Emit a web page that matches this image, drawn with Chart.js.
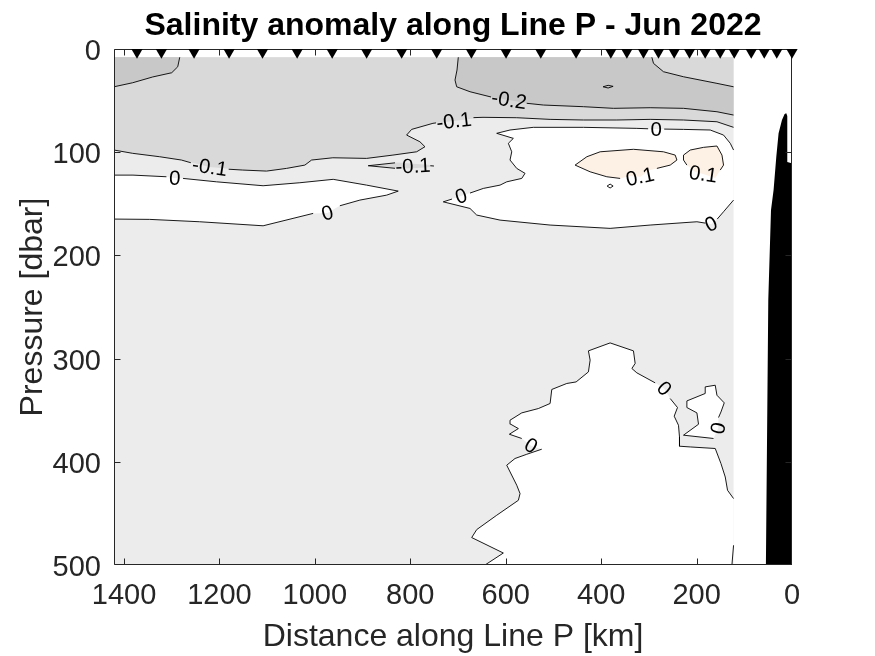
<!DOCTYPE html>
<html><head><meta charset="utf-8">
<script src="https://cdn.jsdelivr.net/npm/chart.js@4/dist/chart.umd.min.js"></script>
<style>html,body{margin:0;padding:0;background:#fff}</style>
</head><body>
<canvas id="c" width="875" height="656"></canvas>
<script>
// ---------------- data (km along Line P, pressure dbar) ----------------
const xTicks = [0, 200, 400, 600, 800, 1000, 1200, 1400];
const yTicks = [0, 100, 200, 300, 400, 500];
const kmRange = [0, 1421];
const dbarRange = [0, 500];
const dataKm = [122.5, 1421];
const dataDbar = [8, 500];

const stationKm = [1372.8, 1321.6, 1253.2, 1179.8, 1109.7, 1037.1, 963.7, 891.5, 818.1, 744.7,
  671.9, 599.3, 526.5, 452.5, 379.7, 346.1, 311.3, 279.8, 246.9, 214.8, 181.9, 150.5, 121.0,
  85.4, 58.1, 31.9, 0];
const stationDbar = 3.2;

// filled regions (anomaly classes)
const regionMinus02to01 = [[1421,8],[122.5,8],[122.5,75.9],[157.3,70.5],[227.4,68.8],[297.3,68.2],[367.1,68.8],[437.2,68.8],[507.0,68.2],[576.9,66.6],[647.6,66.2],[708.4,69.8],[752.5,72.0],[797.2,77.9],[807.7,83.4],[779.8,89.9],[769.3,94.7],[786.7,99.6],[836.4,102.8],[891.6,106.0],[962.3,105.4],[1006.9,107.6],[1021.0,112.5],[1059.4,115.7],[1101.3,118.3],[1151.1,117.3],[1220.3,114.4],[1279.7,107.6],[1325.2,104.4],[1381.8,101.1],[1421,97.9]];
const regionBelow02West = [[1421,8],[1283.2,8],[1287.4,17.2],[1300.0,23.0],[1339.9,27.1],[1381.8,32.7],[1421,36.6]];
const regionBelow02East = [[699.4,8],[293.7,8],[290.3,13.9],[269.4,22.0],[227.4,26.9],[157.3,33.3],[122.5,36.6],[122.5,64.0],[157.3,60.8],[227.4,57.5],[297.3,56.9],[374.2,57.5],[437.2,55.9],[521.1,54.3],[553.2,52.8],[593.0,49.4],[632.9,46.2],[674.9,41.4],[702.8,36.6],[706.3,30.1],[702.1,20.4]];
const regionWedge = [[888.2,113.1],[825.9,110.0],[794.4,111.2],[763.0,112.2],[750.4,113.4],[763.0,114.6],[794.4,115.6],[825.9,115.9]];
const regionPosBandWest = [[1421,122.2],[1381.2,122.2],[1311.1,123.8],[1293.7,125.1],[1276.3,125.4],[1206.2,128.7],[1108.5,132.5],[1031.5,129.6],[961.6,126.3],[891.6,131.9],[825.3,137.7],[849.6,141.6],[905.6,146.4],[947.6,151.9],[973.8,159.0],[1003.6,159.3],[1108.5,171.3],[1241.3,167.4],[1346.2,165.1],[1421,164.8]];
const regionPosEast = [[730.9,148.1],[693.7,142.5],[674.9,139.6],[647.0,135.1],[611.9,131.9],[597.9,128.7],[566.4,125.4],[559.5,120.5],[576.9,115.7],[591.0,107.6],[587.4,99.6],[594.5,91.4],[584.0,86.6],[618.9,81.7],[591.0,78.5],[542.1,75.9],[437.2,75.9],[325.2,76.9],[284.7,77.6],[262.2,77.6],[227.4,77.9],[171.4,78.5],[143.5,83.4],[129.4,91.4],[122.5,97.9],[122.5,146.4],[143.5,157.7],[156.7,164.8],[169.3,169.7],[181.9,168.7],[199.3,167.4],[297.3,170.6],[381.2,173.8],[507.0,170.6],[611.9,165.8],[660.8,160.9],[674.9,154.5]];
const regionAbove01a = [[454.6,112.5],[430.0,104.4],[402.1,99.6],[332.3,97.2],[269.4,99.6],[244.8,102.8],[241.2,107.6],[255.3,112.5],[283.2,115.7],[297.3,117.3],[318.2,123.8],[339.2,123.1],[360.2,125.4],[388.1,123.8],[423.1,119.0]];
const regionAbove01b = [[227.4,102.8],[213.3,97.9],[185.4,95.3],[157.3,94.0],[146.8,102.8],[143.5,112.5],[150.4,117.3],[160.9,125.1],[186.1,121.2],[202.9,119.3],[220.3,112.5],[227.4,107.6]];
const regionPosDeep = [[643.4,500],[605.0,488.4],[671.3,473.4],[660.8,465.7],[618.9,451.8],[573.5,437.3],[570.0,430.8],[576.9,422.7],[597.9,403.3],[580.5,396.8],[555.9,392.7],[524.5,387.8],[546.9,384.4],[566.4,377.4],[592.4,373.3],[573.5,367.8],[589.5,363.6],[591.0,359.7],[566.4,352.6],[531.6,348.4],[507.0,343.5],[503.5,329.9],[472.0,324.1],[452.5,322.6],[426.7,312.9],[423.1,301.5],[426.7,292.5],[381.2,284.8],[332.3,292.5],[328.7,304.7],[335.6,309.6],[325.2,313.8],[286.8,323.5],[267.9,329.0],[255.3,338.7],[240.0,347.4],[246.9,355.8],[237.9,364.6],[235.8,375.9],[235.8,384.9],[213.3,385.6],[160.9,387.1],[148.9,401.7],[139.9,414.7],[135.1,427.6],[122.5,435.6],[122.5,480.9],[125.9,500]];
const regionPosLoop = [[227.4,374.2],[195.9,363.6],[199.3,352.6],[220.3,347.4],[220.3,341.0],[181.9,333.8],[181.9,327.4],[160.9,325.8],[157.3,335.5],[142.0,342.9],[148.9,351.7],[154.0,357.1],[154.6,367.5],[164.5,377.4]];
const bathymetry = [[54.7,500],[49.7,243],[44.0,156.1],[38.6,136.7],[32.9,104.4],[28.1,81.7],[21.0,68.8],[15.5,63.0],[12.0,62.3],[9.9,65.0],[9.9,109.6],[2.5,110.5],[0,111],[0,500]];

// contour lines (split where labels sit)
const contourLines = [
  [[1283.2,8],[1287.4,17.2],[1300.0,23.0],[1339.9,27.1],[1381.8,32.7],[1421,36.6]],
  [[293.7,8],[290.3,13.9],[269.4,22.0],[227.4,26.9],[157.3,33.3],[122.5,36.6]],
  [[122.5,64.0],[157.3,60.8],[227.4,57.5],[297.3,56.9],[374.2,57.5],[437.2,55.9],[521.1,54.3],[556.0,52.6]],
  [[630.8,46.5],[674.9,41.4],[702.8,36.6],[706.3,30.1],[702.1,20.4],[699.4,8]],
  [[395.9,36.6],[385.4,35.2],[374.9,36.2],[385.4,37.8],[395.9,36.6]],
  [[1421,97.9],[1381.8,101.1],[1325.2,104.4],[1279.7,107.6],[1260.0,110.2]],
  [[1180.6,116.5],[1151.1,117.3],[1101.3,118.3],[1059.4,115.7],[1021.0,112.5],[1006.9,107.6],[962.3,105.4],[891.6,106.0],[836.4,102.8],[786.7,99.6],[769.3,94.7],[779.8,89.9],[807.7,83.4],[797.2,77.9],[752.5,72.0],[746,71.6]],
  [[667.6,66.5],[647.6,66.2],[576.9,66.6],[507.0,68.2],[437.2,68.8],[367.1,68.8],[297.3,68.2],[227.4,68.8],[157.3,70.5],[122.5,75.9]],
  [[832,110.3],[888.2,113.1],[832,115.6]],
  [[758.0,113.1],[750.4,113.4]],
  [[1421,122.2],[1381.2,122.2],[1311.1,123.8]],
  [[1276.3,125.4],[1206.2,128.7],[1108.5,132.5],[1031.5,129.6],[961.6,126.3],[891.6,131.9],[825.3,137.7],[849.6,141.6],[905.6,146.4],[947.6,151.9]],
  [[1003.6,159.3],[1108.5,171.3],[1241.3,167.4],[1346.2,165.1],[1421,164.8]],
  [[674.9,139.6],[647.0,135.1],[611.9,131.9],[597.9,128.7],[566.4,125.4],[559.5,120.5],[576.9,115.7],[591.0,107.6],[587.4,99.6],[594.5,91.4],[584.0,86.6],[618.9,81.7],[591.0,78.5],[542.1,75.9],[437.2,75.9],[325.2,76.9],[301.5,77.3]],
  [[267.9,77.6],[227.4,77.9],[171.4,78.5],[143.5,83.4],[129.4,91.4],[122.5,97.9]],
  [[122.5,146.4],[143.5,157.7],[156.7,164.8]],
  [[181.9,168.7],[199.3,167.4],[297.3,170.6],[381.2,173.8],[507.0,170.6],[611.9,165.8],[660.8,160.9],[674.9,154.5],[730.9,148.1],[712.6,145.4]],
  [[387.5,132.8],[381.2,130.9],[374.9,132.8],[381.2,134.7],[387.5,132.8]],
  [[360.2,125.4],[388.1,123.8],[423.1,119.0],[454.6,112.5],[430.0,104.4],[402.1,99.6],[332.3,97.2],[269.4,99.6],[244.8,102.8],[241.2,107.6],[255.3,112.5],[283.2,115.7]],
  [[220.3,112.5],[227.4,107.6],[227.4,102.8],[213.3,97.9],[185.4,95.3],[157.3,94.0],[146.8,102.8],[143.5,112.5],[150.4,117.3]],
  [[643.4,500],[605.0,488.4],[671.3,473.4],[660.8,465.7],[618.9,451.8],[573.5,437.3],[570.0,430.8],[576.9,422.7],[597.9,403.3],[580.5,396.8],[555.9,392.7],[524.5,387.8]],
  [[566.4,377.4],[592.4,373.3],[573.5,367.8],[589.5,363.6],[591.0,359.7],[566.4,352.6],[531.6,348.4],[507.0,343.5],[503.5,329.9],[472.0,324.1],[452.5,322.6],[426.7,312.9],[423.1,301.5],[426.7,292.5],[381.2,284.8],[332.3,292.5],[328.7,304.7],[335.6,309.6],[325.2,313.8],[286.8,323.5]],
  [[255.3,338.7],[240.0,347.4],[246.9,355.8],[237.9,364.6],[235.8,375.9],[235.8,384.9],[213.3,385.6],[160.9,387.1],[148.9,401.7],[139.9,414.7],[135.1,427.6],[122.5,435.6]],
  [[122.5,480.9],[125.9,500]],
  [[164.5,377.4],[227.4,374.2],[195.9,363.6],[199.3,352.6],[220.3,347.4],[220.3,341.0],[181.9,333.8],[181.9,327.4],[160.9,325.8],[157.3,335.5],[142.0,342.9],[148.9,351.7],[154.0,357.1]]
];

// contour labels: [km, dbar, text]
const contourLabels = [
  [1220.3,114.4,'-0.1'], [708.4,69.8,'-0.1'], [794.4,113.4,'-0.1'], [593.0,49.4,'-0.2'],
  [1293.7,125.1,'0'], [973.8,159.0,'0'], [693.7,142.5,'0'], [284.7,77.6,'0'], [169.3,169.7,'0'],
  [318.2,123.8,'0.1'], [186.1,121.2,'0.1'],
  [546.9,384.4,'0'], [267.9,329.0,'0'], [154.6,367.5,'0']
];
const labelAngle = [9, -7, -3, 9, 3, -16, -18, 0, -25, -12, 8, 30, 46, -80];

// ---------------- chart ----------------
const FONT = "'Liberation Sans', Arial, Helvetica, sans-serif";
const AX = '#262626';
const toXY = a => a.map(p => ({x: p[0], y: p[1]}));
const layers = [];
function addPoly(pts, color) {
  layers.push({data: toXY(pts), showLine: true, fill: 'shape', backgroundColor: color,
    borderColor: 'rgba(0,0,0,0)', borderWidth: 0, pointRadius: 0});
}
function addLine(pts) {
  layers.push({data: toXY(pts), showLine: true, fill: false, borderColor: '#000',
    borderWidth: 0.9, pointRadius: 0});
}
addPoly([[dataKm[1],dataDbar[0]],[dataKm[0],dataDbar[0]],[dataKm[0],dataDbar[1]],[dataKm[1],dataDbar[1]]], '#ececec');
addPoly(regionMinus02to01, '#d9d9d9');
addPoly(regionBelow02West, '#c8c8c8');
addPoly(regionBelow02East, '#c8c8c8');
addPoly(regionWedge, '#d9d9d9');
addPoly(regionPosBandWest, '#ffffff');
addPoly(regionPosEast, '#ffffff');
addPoly(regionAbove01a, '#fdf0e5');
addPoly(regionAbove01b, '#fdf0e5');
addPoly(regionPosDeep, '#ffffff');
addPoly(regionPosLoop, '#ffffff');
addPoly(bathymetry, '#000000');
contourLines.forEach(addLine);
layers.forEach((d, i) => d.order = layers.length - i + 1);
const triIdx = layers.length;
layers.push({data: stationKm.map(k => ({x: k, y: stationDbar})), showLine: false, clip: false,
  pointStyle: 'triangle', pointRotation: 180, pointRadius: 6.5, pointBackgroundColor: '#000',
  pointBorderColor: '#000', pointBorderWidth: 0, order: 0});

const framePlugin = {
  id: 'frame',
  beforeDatasetDraw(chart, args) {
    if (args.index !== triIdx) return;
    const ctx = chart.ctx, xs = chart.scales.x, ys = chart.scales.y, a = chart.chartArea;
    // contour labels
    ctx.save();
    ctx.fillStyle = '#000';
    ctx.font = '20.5px ' + FONT;
    ctx.textAlign = 'center';
    ctx.textBaseline = 'middle';
    contourLabels.forEach((l, i) => {
      ctx.save();
      ctx.translate(xs.getPixelForValue(l[0]), ys.getPixelForValue(l[1]));
      ctx.rotate(labelAngle[i] * Math.PI / 180);
      ctx.fillText(l[2], 0, 1);
      ctx.restore();
    });
    ctx.restore();
    // box and inward ticks
    ctx.save();
    ctx.strokeStyle = AX;
    ctx.lineWidth = 1;
    const L = Math.round(a.left) + 0.5, R = Math.round(a.right) - 0.5,
          T = Math.round(a.top) + 0.5, B = Math.round(a.bottom) - 0.5;
    ctx.beginPath();
    ctx.rect(L, T, R - L, B - T);
    const tl = 6;
    const clampX = p => Math.min(R, Math.max(L, p));
    const clampY = p => Math.min(B, Math.max(T, p));
    xTicks.forEach(v => {
      const p = clampX(Math.round(xs.getPixelForValue(v)) + 0.5);
      ctx.moveTo(p, B); ctx.lineTo(p, B - tl);
      ctx.moveTo(p, T); ctx.lineTo(p, T + tl);
    });
    yTicks.forEach(v => {
      const p = clampY(Math.round(ys.getPixelForValue(v)) + 0.5);
      ctx.moveTo(L, p); ctx.lineTo(L + tl, p);
      ctx.moveTo(R, p); ctx.lineTo(R - tl, p);
    });
    ctx.stroke();
    ctx.restore();
  }
};

new Chart(document.getElementById('c'), {
  type: 'scatter',
  data: {datasets: layers},
  plugins: [framePlugin],
  options: {
    responsive: false,
    animation: false,
    devicePixelRatio: 1,
    events: [],
    layout: {padding: {left: 0, right: 83, top: 0, bottom: 0}},
    plugins: {
      legend: {display: false},
      tooltip: {enabled: false},
      title: {display: true, text: 'Salinity anomaly along Line P - Jun 2022', fullSize: false,
        color: '#000', font: {family: FONT, size: 32, weight: 'bold'}, padding: {top: 6.5, bottom: 4.1}}
    },
    scales: {
      x: {
        type: 'linear', reverse: true, min: kmRange[0], max: kmRange[1],
        afterBuildTicks: s => { s.ticks = xTicks.map(v => ({value: v})); },
        afterFit: s => { s.height = 91; },
        grid: {display: false, drawTicks: false, tickLength: 0},
        border: {display: false},
        ticks: {color: AX, font: {family: FONT, size: 29}, padding: 14, maxRotation: 0, autoSkip: false,
          callback: v => String(v)},
        title: {display: true, text: 'Distance along Line P [km]', color: AX,
          font: {family: FONT, size: 32}, padding: {top: 0, bottom: 0}}
      },
      y: {
        type: 'linear', reverse: true, min: dbarRange[0], max: dbarRange[1],
        afterBuildTicks: s => { s.ticks = yTicks.map(v => ({value: v})); },
        afterFit: s => { s.width = 114; },
        grid: {display: false, drawTicks: false, tickLength: 0},
        border: {display: false},
        ticks: {color: AX, font: {family: FONT, size: 29}, padding: 13, autoSkip: false,
          labelOffset: 3, callback: v => String(v)},
        title: {display: true, text: 'Pressure [dbar]', color: AX,
          font: {family: FONT, size: 32}, padding: {top: 14, bottom: 0}}
      }
    }
  }
});
</script>
</body></html>
